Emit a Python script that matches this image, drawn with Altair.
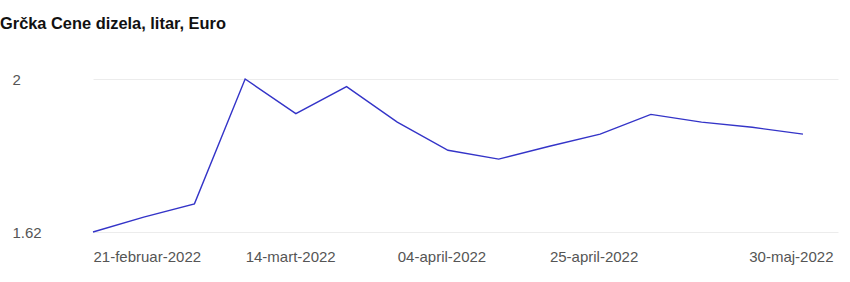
import altair as alt
import pandas as pd

dates = ["2022-02-21", "2022-02-28", "2022-03-07", "2022-03-14", "2022-03-21",
         "2022-03-28", "2022-04-04", "2022-04-11", "2022-04-18", "2022-04-25",
         "2022-05-02", "2022-05-09", "2022-05-16", "2022-05-23", "2022-05-30"]
prices = [1.620, 1.657, 1.690, 2.000, 1.914, 1.981, 1.893, 1.823, 1.801, 1.833,
          1.863, 1.912, 1.893, 1.880, 1.863]
tick_dates = ["2022-02-21", "2022-03-14", "2022-04-04", "2022-04-25", "2022-05-30"]
y_ticks = [1.62, 2]
title_text = "Grčka Cene dizela, litar, Euro"

df = pd.DataFrame({"date": pd.to_datetime(dates), "price": prices})

tick_vals = [alt.DateTime(year=int(d[:4]), month=int(d[5:7]), date=int(d[8:])) for d in tick_dates]

FONT = "Liberation Sans"

chart = alt.Chart(df).mark_line(color="#3434c8", strokeWidth=1.4).encode(
    x=alt.X("date:T",
            scale=alt.Scale(domain=[alt.DateTime(year=2022, month=2, date=21),
                                    alt.DateTime(year=2022, month=6, date=3, hours=20)]),
            axis=alt.Axis(values=tick_vals, title=None, grid=False, domain=False, ticks=False,
                          labelExpr="timeFormat(datum.value, '%d') + '-' + ['januar','februar','mart','april','maj','jun','jul','avgust','septembar','oktobar','novembar','decembar'][month(datum.value)] + '-' + timeFormat(datum.value, '%Y')",
                          labelAlign=alt.condition("datum.value > datetime(2022, 4, 20)", alt.value("right"), alt.value("left")),
                          labelOffset=alt.condition("datum.value > datetime(2022, 4, 20)", alt.value(30), alt.value(0)),
                          labelFont=FONT, labelFontSize=15, labelColor="#555555",
                          labelPadding=17, labelOverlap=False, labelFlush=False, labelBound=False)),
    y=alt.Y("price:Q",
            scale=alt.Scale(domain=[1.62, 2], nice=False, zero=False),
            axis=alt.Axis(values=y_ticks, title=None, domain=False, ticks=False, format=".3~g",
                          gridColor="#ececec", gridWidth=1,
                          labelAlign="left", labelBaseline="middle", labelPadding=81,
                          labelFont=FONT, labelFontSize=15, labelColor="#555555"))
).properties(
    width=745, height=153,
    title=alt.TitleParams(text=title_text, anchor="start", frame="group", dx=-93, offset=27,
                          baseline="alphabetic", font=FONT, fontSize=16.4,
                          fontWeight="bold", color="#111111"),
    autosize=alt.AutoSizeParams(type="none"),
    padding={"left": 93, "top": 79, "right": 12, "bottom": 50}
).configure_view(stroke=None)

chart.save("out.html", embed_options={"renderer": "svg", "actions": False})
